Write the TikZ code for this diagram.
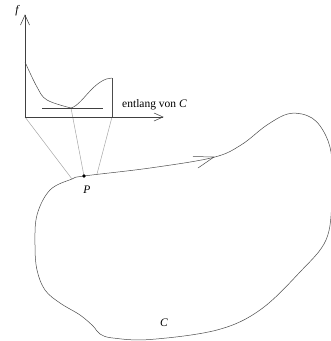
\documentclass[tikz,border=0pt]{standalone}
\usepackage{fontspec}
\setmainfont{Liberation Serif}
\begin{document}
\begin{tikzpicture}[x=1pt,y=-1pt,
  curveline/.style={draw=black!70,line width=0.5pt},
  axisline/.style={draw=black!75,line width=0.55pt},
  projline/.style={draw=black!35,line width=0.5pt},
  lbl/.style={inner sep=0pt,font=\fontsize{11.5}{13}\selectfont}]
\useasboundingbox (0,0) rectangle (331,341);
\clip (0,0) rectangle (331,341);
% coordinates
\coordinate (O) at (25,117);
\coordinate (ytip) at (25,15);
\coordinate (xtip) at (163,117);
\coordinate (fmin) at (71,108);
\coordinate (fend) at (112,78);
\coordinate (xend) at (112,117);
\coordinate (tl) at (42,108);
\coordinate (tr) at (103,108);
\coordinate (P) at (84,176);
\coordinate (pl) at (72,179);
\coordinate (pr) at (97,174);
\coordinate (atip) at (214,157);
\coordinate (ab1) at (193,156.5);
\coordinate (ab2) at (198,168);
% projection lines
\draw[projline] (O) -- (pl);
\draw[projline] (fmin) -- (P);
\draw[projline] (xend) -- (pr);
% axes
\draw[axisline] (O) -- (ytip);
\draw[axisline] (20.5,25) -- (ytip) -- (29.5,25);
\draw[axisline] (O) -- (xtip);
\draw[axisline] (154,113) -- (xtip) -- (154,121);
% graph
\draw[curveline] plot[smooth,tension=0.6] coordinates {(25,62) (37,87) (47,100) (71,108)};
\draw[curveline] (71,108) .. controls (78,106) and (84,97) .. (92,89) .. controls (98,83) and (105,78) .. (fend);
\draw[curveline] (fend) -- (xend);
\draw[axisline] (tl) -- (tr);
% closed curve C
\draw[curveline] plot[smooth cycle,tension=0.6] coordinates {
 (84,176) (150,168) (213,157.5) (241,145) (267,125) (290,113.5)
 (312,118) (326,136) (332,160) (332,200) (326,240) (300,272) (260,310)
 (217,330) (150,339.5) (113,338) (100,334) (93,326) (80,315) (60,303)
 (45,290) (37,270) (35,245) (37,215) (50,190) (72,179)};
\draw[curveline] (ab1) -- (atip) -- (ab2);
\fill (P) circle (1.9);
% labels
\node[lbl] (flab) at (17,11) {\itshape f};
\node[lbl,anchor=base west] (along) at (122,107) {entlang von \textit{C}};
\node[lbl] (Plab) at (87,190) {\itshape P};
\node[lbl] (Clab) at (164,323) {\itshape C};
\end{tikzpicture}
\end{document}
